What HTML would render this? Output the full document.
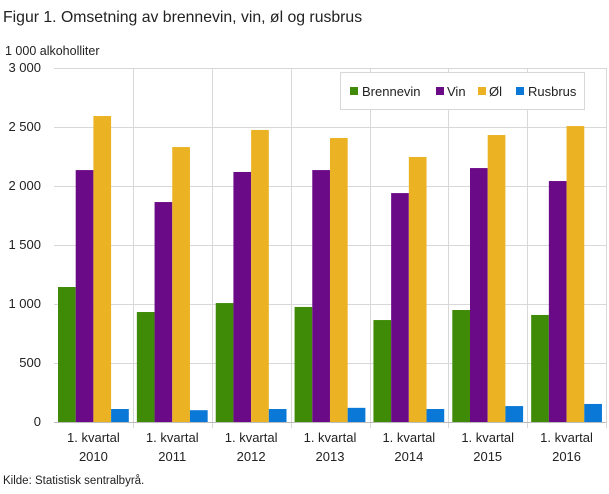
<!DOCTYPE html>
<html><head><meta charset="utf-8"><style>
body{margin:0;background:#fff;width:609px;height:489px;overflow:hidden;font-family:"Liberation Sans",sans-serif}
</style></head><body>
<svg width="609" height="489" xmlns="http://www.w3.org/2000/svg" font-family="Liberation Sans, sans-serif">
<text x="3" y="22" font-size="15.8" fill="#222">Figur 1. Omsetning av brennevin, vin, øl og rusbrus</text>
<text x="5" y="55" font-size="12.5" fill="#222">1 000 alkoholliter</text>
<g stroke="#d8d8d8" stroke-width="1">
<line x1="54" y1="68.5" x2="606" y2="68.5"/><line x1="54" y1="127.5" x2="606" y2="127.5"/>
<line x1="54" y1="186.5" x2="606" y2="186.5"/><line x1="54" y1="245.5" x2="606" y2="245.5"/>
<line x1="54" y1="304.5" x2="606" y2="304.5"/><line x1="54" y1="363.5" x2="606" y2="363.5"/>
<line x1="133.5" y1="68" x2="133.5" y2="428"/><line x1="212.5" y1="68" x2="212.5" y2="428"/>
<line x1="291.5" y1="68" x2="291.5" y2="428"/><line x1="370.5" y1="68" x2="370.5" y2="428"/>
<line x1="448.5" y1="68" x2="448.5" y2="428"/><line x1="527.5" y1="68" x2="527.5" y2="428"/>
<line x1="606.5" y1="68" x2="606.5" y2="428"/>
</g>
<g font-size="13" fill="#222" text-anchor="end">
<text x="41" y="72">3 000</text><text x="41" y="131">2 500</text><text x="41" y="190">2 000</text>
<text x="41" y="249">1 500</text><text x="41" y="308">1 000</text><text x="41" y="367">500</text><text x="41" y="426">0</text>
</g>
<g id="bars"></g>
<line x1="54" y1="422.5" x2="606" y2="422.5" stroke="#bbb"/>
<rect x="340.5" y="72.5" width="244" height="37" fill="#fff" stroke="#d8d8d8"/>
<g font-size="13" fill="#222">
<rect x="350" y="87" width="8" height="8" fill="#3f8a06"/><text x="362" y="96">Brennevin</text>
<rect x="436" y="87" width="8" height="8" fill="#6b0a87"/><text x="447" y="96">Vin</text>
<rect x="478" y="87" width="8" height="8" fill="#ebb324"/><text x="489" y="96">Øl</text>
<rect x="516" y="87" width="8" height="8" fill="#0a78d6"/><text x="528" y="96">Rusbrus</text>
</g>
<g font-size="13" fill="#222" text-anchor="middle" id="xl"></g>
<text x="3" y="484" font-size="11.5" fill="#222">Kilde: Statistisk sentralbyrå.</text>
</svg>
<script>
var d=[[1144,2135,2593,110],[932,1864,2330,100],[1008,2119,2475,110],[975,2135,2407,120],[864,1940,2246,110],[949,2152,2432,135],[907,2042,2508,153]];
var c=["#3f8a06","#6b0a87","#ebb324","#0a78d6"],ns="http://www.w3.org/2000/svg";
var g=document.getElementById("bars"),xl=document.getElementById("xl");
d.forEach(function(r,i){var x0=54+i*78.86;
r.forEach(function(v,j){var e=document.createElementNS(ns,"rect");var h=v*0.118;
e.setAttribute("x",x0+4+j*17.7);e.setAttribute("width",17.7);e.setAttribute("y",422-h);e.setAttribute("height",h);e.setAttribute("fill",c[j]);g.appendChild(e);});
var t=document.createElementNS(ns,"text");t.setAttribute("x",x0+39.4);t.setAttribute("y",442);t.textContent="1. kvartal";xl.appendChild(t);
t=document.createElementNS(ns,"text");t.setAttribute("x",x0+39.4);t.setAttribute("y",461);t.textContent=2010+i;xl.appendChild(t);});
</script>
</body></html>
